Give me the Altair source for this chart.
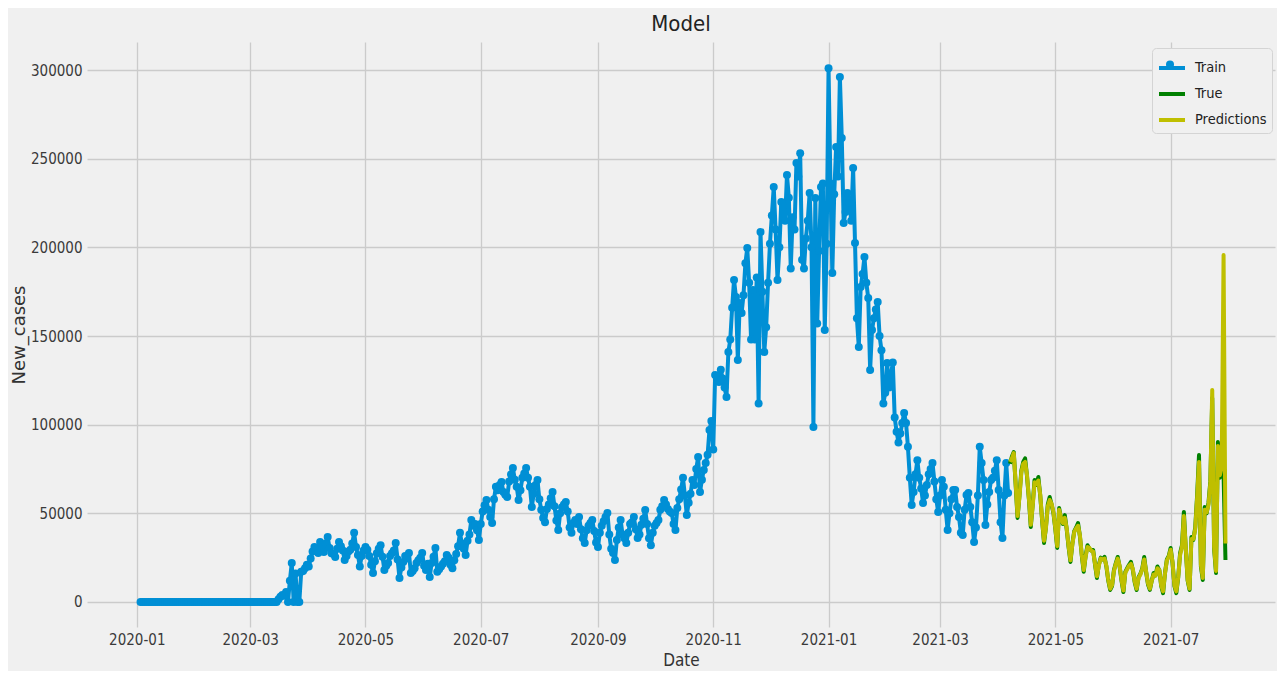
import altair as alt
import pandas as pd

# ---- Train series (daily, 2020-01-03 .. 2021-04-06) ----
jan_2020 = [0, 0, 0, 0, 0, 0, 0, 0, 0, 0, 0, 0, 0, 0, 0, 0, 0, 0, 0, 0,
            0, 0, 0, 0, 0, 0, 0, 0, 0]
feb_2020 = [0, 0, 0, 0, 0, 0, 0, 0, 0, 0, 0, 0, 0, 0, 0, 0, 0, 0, 0, 0,
            0, 0, 0, 0, 0, 0, 0, 0, 0]
mar_2020 = [0, 0, 0, 0, 0, 0, 0, 0, 0, 0, 0, 0, 0, 0, 0,
            1500, 3000, 4000, 3500, 5600, 0, 12000, 22000, 0, 16000, 0, 0,
            17000, 17500, 19000, 21000]
apr_2020 = [20000, 24500, 28500, 31000, 30000, 27600, 33800, 31000, 28200, 33000,
            36600, 30500, 27500, 27000, 25400, 30000, 33800, 31500, 29000, 23700,
            26000, 28500, 29500, 33000, 39000, 31000, 26500, 20000, 26000, 29000]
may_2020 = [31000, 29500, 26000, 21000, 16400, 23000, 27500, 30000, 32000, 25500,
            18000, 20500, 22000, 26000, 27500, 29000, 33300, 24000, 13500, 19500,
            22500, 26000, 24500, 27600, 16400, 17500, 19000, 22000, 23500, 25000,
            27600]
jun_2020 = [20500, 18000, 21500, 14100, 22000, 25500, 30500, 17000, 18500, 20000,
            21500, 23000, 26500, 25000, 21000, 19000, 23500, 27000, 31500, 39000,
            33000, 30000, 26500, 34500, 38000, 46200, 43000, 44000, 40500, 35000]
jul_2020 = [44000, 51000, 54500, 57500, 52000, 48000, 44500, 58000, 65000, 63000,
            66000, 67600, 62000, 60500, 59200, 68000, 72000, 75500, 69000, 65000,
            57500, 63000, 70000, 72500, 75500, 70000, 65000, 53600, 61000, 66000,
            68800]
aug_2020 = [58000, 52000, 47400, 45000, 52500, 55000, 58500, 62000, 54000, 46000,
            40600, 50000, 53500, 55000, 56400, 51000, 42000, 39000, 44500, 46200,
            44000, 48000, 41000, 36000, 33300, 40500, 43000, 44500, 46200, 40000,
            33500]
sep_2020 = [31000, 39000, 43000, 45500, 48000, 50200, 38000, 30000, 27600, 23700,
            35000, 42000, 46200, 38000, 36000, 33300, 39000, 44000, 45000, 48000,
            41000, 36100, 38000, 43500, 47000, 51900, 44000, 36000, 32000, 39000]
oct_2020 = [43000, 44500, 46200, 52000, 54000, 57500, 55000, 52500, 51000, 50200,
            44000, 40600, 53000, 58000, 63500, 70000, 60000, 49000, 56000, 61000,
            68800, 66000, 75000, 81800, 62000, 69000, 74500, 78400, 83000, 97000,
            102000]
nov_2020 = [86000, 128000, 127000, 124000, 131000, 126000, 121000, 115600, 141000, 148000,
            166000, 181600, 172000, 136500, 168600, 163000, 173000, 191000, 199600, 180000,
            148000, 176000, 148000, 183000, 112000, 208700, 175000, 141000, 155000, 180000]
dec_2020 = [202000, 218000, 234000, 210000, 181600, 200000, 225600, 223000, 215000, 240800,
            228000, 188000, 217000, 210000, 247600, 240000, 253000, 193000, 188000, 205000,
            215000, 230700, 200000, 98700, 227800, 157000, 198000, 234000, 236000, 153400,
            202000]
jan_2021 = [301000, 236000, 185500, 230000, 256600, 240000, 296000, 261700, 213700, 220000,
            230700, 225000, 215000, 244800, 202500, 160000, 143800, 177700, 185000, 194600,
            180000, 171500, 130800, 153400, 160000, 165000, 169200, 150000, 142000, 112000,
            118000]
feb_2021 = [134800, 121000, 128000, 135000, 104000, 96000, 90000, 95000, 101000, 106600,
            101000, 87500, 70000, 54700, 62000, 72000, 80000, 70000, 64000, 55800,
            60000, 66000, 72000, 75000, 78400, 68000, 58000, 50700]
mar_2021 = [60000, 68800, 65000, 52000, 40600, 50000, 58000, 63200, 63200, 53600,
            48000, 39000, 37800, 52000, 60300, 61500, 53600, 45000, 33800, 42000,
            60000, 87500, 78400, 68800, 43400, 55000, 62000, 68800, 70000, 74000,
            80000]
apr_2021 = [63200, 45000, 36100, 60000, 78400, 61500]

# ---- Test period (daily, 2021-04-07 .. 2021-07-30) ----
true_values = [
    78000, 82000, 84600, 66000, 47400,
    60000, 74000, 79000, 81000, 71000, 58000, 42300,
    55000, 68800, 66000, 70500, 60000, 46000, 33300,
    42000, 55000, 59200, 55000, 50000, 41000, 30500,
    53000, 47000, 44000, 49000, 41000, 31000, 22600,
    33000, 40000, 42000, 44500, 37000, 26000, 17000,
    26000, 32000, 30000, 29000, 29300, 21000, 13500,
    21000, 25000, 24000, 25400, 20000, 12000, 6800,
    9000, 18000, 22000, 25400, 20000, 12000, 5600,
    17000, 19000, 21000, 22600, 18000, 11000, 6800,
    14000, 16000, 19000, 25400, 17000, 10000, 6800,
    12000, 16400, 15000, 20000, 18000, 9000, 5000,
    16400, 24000, 26000, 30500, 22000, 9000, 5000,
    14000, 27600, 32000, 50800, 30000, 12000, 6800,
    36700, 35000, 42000, 60000, 82900, 20000, 12400,
    53600, 50000, 55800, 68000, 115000, 30000, 16400,
    90200, 70000, 74500, 72000, 23700,
]
pred_values = [
    79000, 81000, 84000, 67000, 48500,
    59000, 73000, 78000, 79000, 71500, 58500, 43500,
    54000, 67500, 66500, 68500, 60500, 46500, 34500,
    41500, 54000, 57500, 55500, 50500, 41500, 31500,
    52000, 47500, 44500, 47500, 41500, 31500, 23500,
    32500, 39500, 41500, 43000, 37500, 26500, 18000,
    25500, 31000, 30500, 29000, 28500, 21500, 14500,
    20500, 24500, 24000, 24500, 20500, 12500, 7500,
    9500, 17500, 21500, 24500, 20500, 12500, 6500,
    16500, 18500, 20500, 21500, 18500, 11500, 7500,
    13500, 15500, 18500, 24000, 17500, 10500, 7500,
    12000, 15500, 15000, 19000, 18000, 9500, 6000,
    16000, 23500, 25500, 29500, 22500, 9500, 6000,
    14000, 26500, 31000, 48500, 30500, 12500, 7500,
    35500, 35500, 41000, 58500, 79000, 21000, 13500,
    52000, 50500, 54500, 67000, 119600, 31000, 17500,
    88000, 71500, 76000, 195700, 33000,
]

series_names = ["Train", "True", "Predictions"]
series_colors = ["#008fd5", "#008000", "#bfbf00"]
y_ticks = [0, 50000, 100000, 150000, 200000, 250000, 300000]
x_tick_months = [(2020, 1), (2020, 3), (2020, 5), (2020, 7), (2020, 9), (2020, 11),
                 (2021, 1), (2021, 3), (2021, 5), (2021, 7)]

train_values = (jan_2020 + feb_2020 + mar_2020 + apr_2020 + may_2020 + jun_2020 +
                jul_2020 + aug_2020 + sep_2020 + oct_2020 + nov_2020 + dec_2020 +
                jan_2021 + feb_2021 + mar_2021 + apr_2021)

train_df = pd.DataFrame({
    "Date": pd.date_range("2020-01-03", periods=len(train_values), freq="D"),
    "New_cases": train_values, "series": "Train"})
test_dates = pd.date_range("2021-04-07", periods=len(true_values), freq="D")
true_df = pd.DataFrame({"Date": test_dates, "New_cases": true_values, "series": "True"})
pred_df = pd.DataFrame({"Date": test_dates[:len(pred_values)], "New_cases": pred_values,
                        "series": "Predictions"})

FONT = "DejaVu Sans"
NARROW = "DejaVu Sans Condensed, DejaVu Sans"
BLUE = series_colors[0]

x_enc = alt.X(
    "Date:T",
    scale=alt.Scale(domain=[alt.DateTime(year=2019, month=12, date=5, hours=16),
                            alt.DateTime(year=2021, month=8, date=25, hours=5)]),
    axis=alt.Axis(values=[alt.DateTime(year=y, month=m, date=1) for y, m in x_tick_months],
                  format="%Y-%m", title="Date", titleFont=NARROW, titleFontSize=17,
                  labelPadding=5, titlePadding=5),
)
y_enc = alt.Y(
    "New_cases:Q",
    scale=alt.Scale(domain=[-14100, 315800], nice=False, zero=False),
    axis=alt.Axis(values=y_ticks, format="d", title="New_cases", titleFont=FONT,
                  titleFontSize=18, labelPadding=5, titlePadding=2),
)

legend = alt.Legend(
    title=None, orient="none", legendX=1065, legendY=6,
    fillColor="#f0f0f0", strokeColor="#d4d4d4", cornerRadius=4, padding=5,
    symbolType="stroke", symbolSize=676, symbolStrokeWidth=4,
    labelFont=NARROW, labelFontSize=14.5, labelColor="#222222", labelOffset=8,
    rowPadding=3,
)
color_enc = alt.Color("series:N", scale=alt.Scale(domain=series_names, range=series_colors),
                      legend=legend)

# marker dot shown on the Train legend entry
dot_legend = alt.Legend(
    title=None, orient="none", legendX=1079, legendY=18.5, padding=0,
    symbolSize=64, symbolFillColor=BLUE, symbolStrokeColor=BLUE, symbolStrokeWidth=0,
    labelOpacity=0, labelFontSize=1, labelOffset=0, zindex=2,
)

train_line = alt.Chart(train_df).mark_line(strokeWidth=4, strokeJoin="round").encode(
    x=x_enc, y=y_enc, color=color_enc)
train_pts = alt.Chart(train_df).mark_point(filled=True, size=64, opacity=1, color=BLUE).encode(
    x=x_enc, y=y_enc,
    shape=alt.Shape("series:N", scale=alt.Scale(domain=["Train"], range=["circle"]),
                    legend=dot_legend))
true_line = alt.Chart(true_df).mark_line(strokeWidth=4, strokeJoin="round").encode(
    x=x_enc, y=y_enc, color=color_enc)
pred_line = alt.Chart(pred_df).mark_line(strokeWidth=4, strokeJoin="round").encode(
    x=x_enc, y=y_enc, color=color_enc)

chart = alt.layer(train_line, train_pts, true_line, pred_line).properties(
    width=1188, height=585,
    title=alt.Title("Model", font=NARROW, fontSize=22, fontWeight="normal",
                    color="#222222", offset=6, anchor="middle"),
    autosize=alt.AutoSizeParams(type="none"),
    padding={"left": 79, "top": 34, "right": 2, "bottom": 44},
).configure(background="#f0f0f0").configure_view(
    fill="#f0f0f0", strokeWidth=0
).configure_axis(
    labelFont=NARROW, labelFontSize=15, labelColor="#3a3a3a",
    titleFontWeight="normal", titleColor="#333333",
    ticks=False, domain=False, gridColor="#cbcbcb", gridWidth=1.3,
)

chart.save("out.html", embed_options={"renderer": "svg", "actions": False})
